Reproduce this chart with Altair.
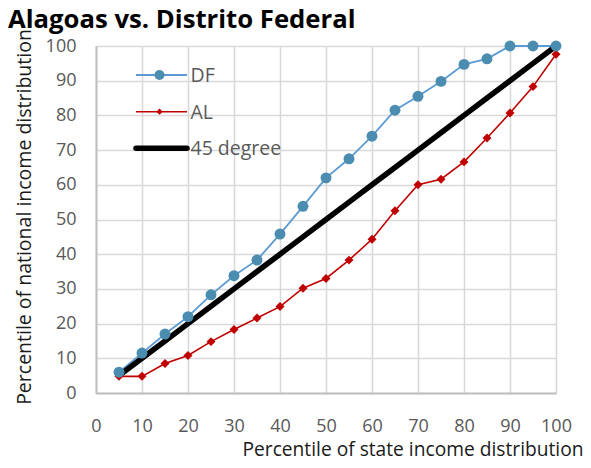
import altair as alt
import pandas as pd

# ---- data ----
percentiles = [5, 10, 15, 20, 25, 30, 35, 40, 45, 50, 55, 60, 65, 70, 75, 80, 85, 90, 95, 100]
df_values = [6, 11.5, 17, 22, 28.3, 33.8, 38.3, 45.8, 53.8, 62, 67.5, 74, 81.5, 85.5, 89.8, 94.7, 96.3, 100, 100, 100]
al_values = [4.8, 4.8, 8.5, 10.8, 14.8, 18.3, 21.6, 24.9, 30.2, 33, 38.3, 44.3, 52.5, 60, 61.6, 66.6, 73.5, 80.7, 88.3, 97.6]
deg45_values = [5, 10, 15, 20, 25, 30, 35, 40, 45, 50, 55, 60, 65, 70, 75, 80, 85, 90, 95, 100]
series_names = ["DF", "AL", "45 degree"]
axis_ticks = [0, 10, 20, 30, 40, 50, 60, 70, 80, 90, 100]

title_text = "Alagoas vs. Distrito Federal"
x_title = "Percentile of state income distribution"
y_title = "Percentile of national income distribution"

FONT = "Open Sans"
W, H = 460, 347

data = pd.DataFrame({
    "x": percentiles * 3,
    "y": df_values + al_values + deg45_values,
    "series": [series_names[0]] * 20 + [series_names[1]] * 20 + [series_names[2]] * 20,
})

xs = alt.Scale(domain=[0, 100], nice=False, zero=False)
ys = alt.Scale(domain=[0, 100], nice=False, zero=False)

xaxis = alt.Axis(
    values=axis_ticks, tickCount=50, title=x_title, grid=True, gridColor="#d9d9d9", gridWidth=1.6,
    domainColor="#bfbfbf", domainWidth=2, ticks=False, labelFlush=False, labelOverlap=False,
    labelFont=FONT, labelFontSize=18, labelColor="#595959",
    labelPadding=38, labelBaseline="alphabetic",
    titleFont=FONT, titleFontSize=19.2, titleFontWeight="normal", titleColor="#1a1a1a",
    titleX=W + 27, titleY=62, titleAlign="right", titleBaseline="alphabetic", titleAnchor="end")
yaxis = alt.Axis(
    values=axis_ticks, tickCount=50, title=y_title, grid=True, gridColor="#d9d9d9", gridWidth=1.6,
    domainColor="#bfbfbf", domainWidth=2, ticks=False, labelFlush=False, labelOverlap=False,
    labelFont=FONT, labelFontSize=18, labelColor="#595959", labelPadding=20,
    titleFont=FONT, titleFontSize=19.5, titleFontWeight="normal", titleColor="#1a1a1a",
    titleX=-66, titleY=H / 2 - 3, titleAngle=270, titleAlign="center", titleBaseline="alphabetic")

xenc = alt.X("x:Q", scale=xs, axis=xaxis)
yenc = alt.Y("y:Q", scale=ys, axis=yaxis)

base = alt.Chart(data).encode(x=xenc, y=yenc)

df_line = base.transform_filter(alt.datum.series == "DF").mark_line(
    color="#5b9bd5", strokeWidth=1.8)
df_pts = base.transform_filter(alt.datum.series == "DF").mark_point(
    shape="circle", filled=True, color="#4a8db0", size=120, opacity=1)
al_line = base.transform_filter(alt.datum.series == "AL").mark_line(
    color="#c00000", strokeWidth=1.6)
al_pts = base.transform_filter(alt.datum.series == "AL").mark_point(
    shape="diamond", filled=True, color="#c00000", size=80, opacity=1)
d45_line = base.transform_filter(alt.datum.series == "45 degree").mark_line(
    color="#000000", strokeWidth=5.5, strokeCap="round")

# ---- manual legend (positions are layout, not data) ----
leg_rows = [29, 65.7, 102.3]
leg_x0, leg_x1, leg_sym, leg_txt = 40, 91, 63.5, 94.5
leg_layers = []
leg_styles = [
    dict(color="#5b9bd5", sw=1.8, shape="circle", mcolor="#4a8db0", size=100),
    dict(color="#c00000", sw=1.6, shape="diamond", mcolor="#c00000", size=40),
    dict(color="#000000", sw=5.5, shape=None, mcolor=None, size=0),
]
leg_df = pd.DataFrame({"label": series_names})
for i, (name, st) in enumerate(zip(series_names, leg_styles)):
    row = alt.Chart(leg_df).transform_filter(alt.datum.label == name)
    leg_layers.append(row.mark_rule(color=st["color"], strokeWidth=st["sw"],
                                    strokeCap="round" if st["shape"] is None else "butt").encode(
        x=alt.value(leg_x0), x2=alt.value(leg_x1), y=alt.value(leg_rows[i])))
    if st["shape"]:
        leg_layers.append(row.mark_point(shape=st["shape"], filled=True, color=st["mcolor"],
                                         size=st["size"], opacity=1).encode(
            x=alt.value(leg_sym), y=alt.value(leg_rows[i])))
    leg_layers.append(row.mark_text(align="left", baseline="middle", font=FONT, fontSize=19.5,
                                    color="#595959").encode(
        x=alt.value(leg_txt), y=alt.value(leg_rows[i] + 1), text="label:N"))

chart = alt.layer(df_line, d45_line, al_line, al_pts, df_pts, *leg_layers).properties(
    width=W, height=H,
    title=alt.TitleParams(title_text, anchor="start", font=FONT, fontSize=25.7, fontWeight="bold",
                          color="#000000", dx=-88, offset=-5, frame="group"),
    autosize=alt.AutoSizeParams(type="none"),
    padding={"left": 88, "top": 38, "right": 27, "bottom": 67},
).configure_view(stroke="#bfbfbf", strokeWidth=1.6).configure(background="white")

chart.save("out.html", embed_options={"renderer": "svg", "actions": False})
